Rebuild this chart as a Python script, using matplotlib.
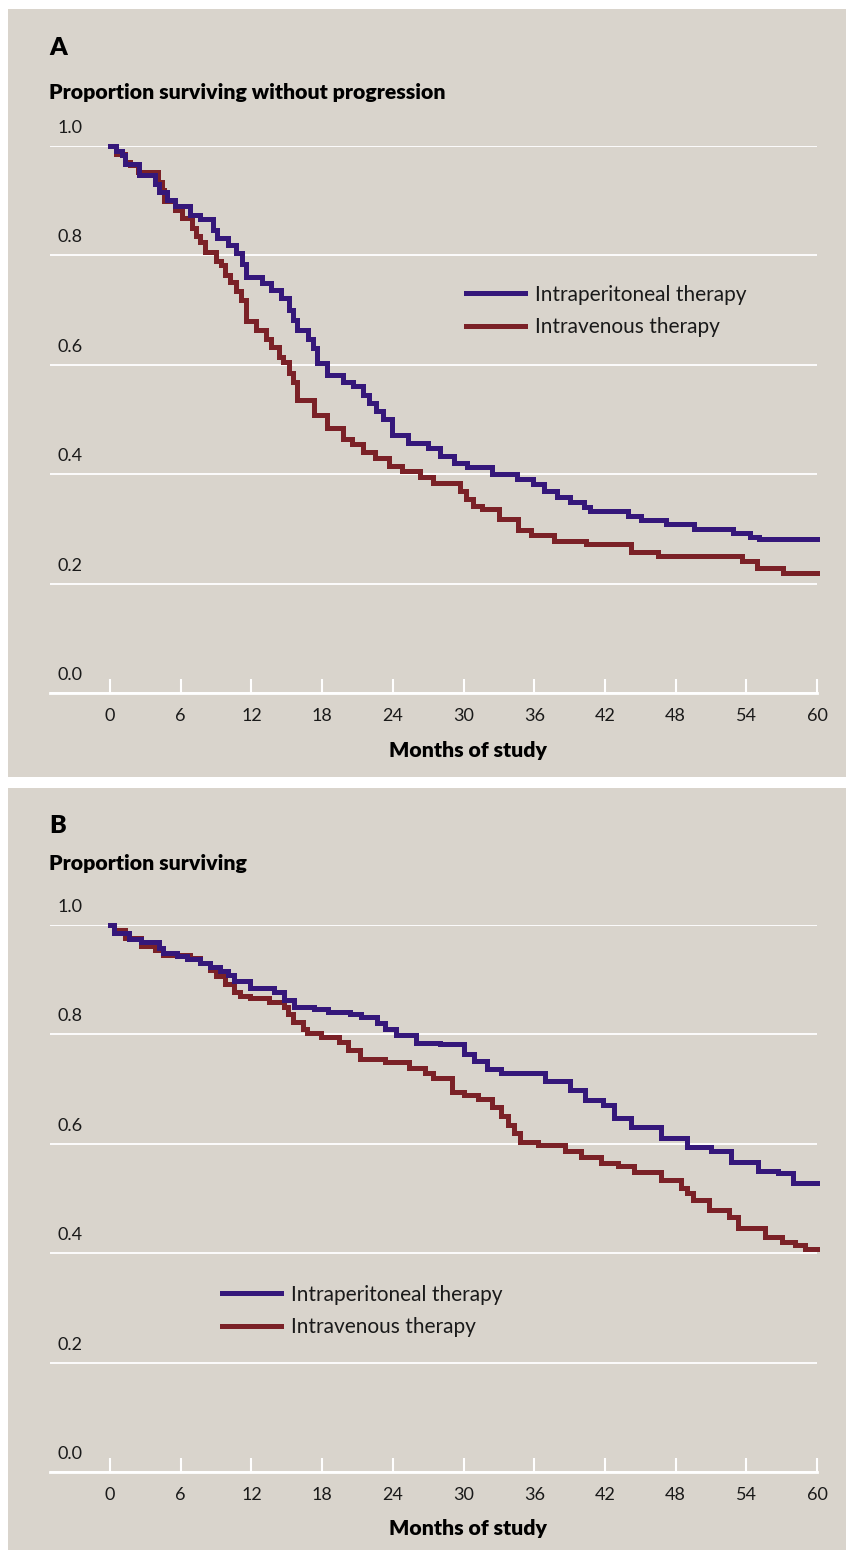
import matplotlib
matplotlib.use("Agg")
import matplotlib.pyplot as plt
from matplotlib.patches import Rectangle
from matplotlib.transforms import offset_copy, blended_transform_factory

# ---------------- data ----------------
months_ticks = [0, 6, 12, 18, 24, 30, 36, 42, 48, 54, 60]
y_ticks = [0.0, 0.2, 0.4, 0.6, 0.8, 1.0]
y_tick_labels = ["0.0", "0.2", "0.4", "0.6", "0.8", "1.0"]
series_names = ["Intraperitoneal therapy", "Intravenous therapy"]

# Panel A: progression-free survival
a_ip_t = [0, 0.5, 1.0, 1.3, 2.5, 3.8, 4.2, 4.8, 5.5, 6.8, 7.6, 8.7, 9.1, 10.0, 10.7, 11.2, 11.5,
          12.9, 13.7, 14.5, 15.2, 15.5, 15.9, 16.8, 17.2, 17.6, 18.4, 19.8, 20.6, 21.5, 22.0,
          22.6, 23.2, 23.9, 25.3, 27.0, 28.0, 29.2, 30.3, 32.4, 34.5, 35.9, 36.8, 37.9, 39.0,
          40.2, 40.7, 44.0, 45.1, 47.2, 49.6, 52.9, 54.3, 55.1, 60]
a_ip_s = [1.0, 0.99, 0.984, 0.968, 0.947, 0.93, 0.916, 0.901, 0.890, 0.874, 0.866, 0.846, 0.832,
          0.819, 0.804, 0.785, 0.761, 0.749, 0.737, 0.722, 0.700, 0.682, 0.664, 0.648, 0.630,
          0.603, 0.581, 0.568, 0.561, 0.545, 0.530, 0.515, 0.500, 0.472, 0.457, 0.447, 0.433,
          0.421, 0.413, 0.400, 0.391, 0.382, 0.370, 0.359, 0.349, 0.340, 0.333, 0.324, 0.316,
          0.309, 0.299, 0.292, 0.286, 0.281, 0.281]
a_iv_t = [0, 0.5, 1.3, 1.7, 2.4, 4.1, 4.4, 4.6, 5.5, 6.1, 7.0, 7.3, 7.6, 8.1, 9.0, 9.4, 9.8, 10.2,
          10.7, 11.1, 11.5, 12.4, 13.2, 13.7, 14.3, 14.7, 15.2, 15.5, 15.9, 17.3, 18.4, 19.8,
          20.5, 21.5, 22.5, 23.7, 24.8, 26.3, 27.4, 29.7, 30.2, 30.8, 31.6, 33.0, 34.6, 35.7,
          37.7, 40.4, 44.2, 46.5, 53.6, 54.9, 57.1, 60]
a_iv_s = [1.0, 0.985, 0.971, 0.965, 0.953, 0.935, 0.92, 0.90, 0.883, 0.868, 0.85, 0.835, 0.825,
          0.807, 0.79, 0.782, 0.765, 0.751, 0.735, 0.718, 0.680, 0.664, 0.648, 0.633, 0.615,
          0.605, 0.585, 0.569, 0.536, 0.508, 0.484, 0.465, 0.455, 0.44, 0.43, 0.415, 0.405,
          0.395, 0.383, 0.37, 0.355, 0.342, 0.336, 0.318, 0.298, 0.288, 0.277, 0.272, 0.258,
          0.250, 0.242, 0.228, 0.220, 0.220]

# Panel B: overall survival
b_ip_t = [0, 0.3, 1.6, 2.6, 4.2, 4.5, 5.7, 6.5, 7.6, 8.5, 9.3, 10.0, 10.5, 11.9, 13.9, 14.8, 15.6,
          17.3, 18.5, 20.4, 21.3, 22.7, 23.3, 24.3, 26.0, 28.0, 30.0, 30.9, 32.0, 33.2, 36.9,
          39.0, 40.3, 41.8, 42.8, 44.2, 46.8, 49.0, 51.0, 52.7, 55.0, 56.7, 58.0, 60]
b_ip_s = [1.0, 0.985, 0.974, 0.969, 0.958, 0.948, 0.944, 0.937, 0.931, 0.923, 0.915, 0.908,
          0.898, 0.885, 0.878, 0.862, 0.851, 0.846, 0.841, 0.837, 0.831, 0.82, 0.809, 0.799,
          0.785, 0.782, 0.765, 0.752, 0.736, 0.729, 0.714, 0.698, 0.680, 0.671, 0.647, 0.631,
          0.611, 0.595, 0.587, 0.566, 0.551, 0.546, 0.528, 0.528]
b_iv_t = [0, 0.3, 1.3, 2.6, 3.8, 4.5, 6.8, 7.6, 8.5, 9.0, 9.8, 10.5, 11.0, 11.9, 13.5, 14.8, 15.1,
          15.5, 16.4, 16.7, 17.9, 19.4, 20.2, 21.2, 23.3, 25.4, 26.7, 27.4, 29.0, 30.0, 31.2,
          32.4, 33.2, 33.8, 34.3, 34.8, 36.3, 38.6, 40.0, 41.7, 43.1, 44.5, 46.8, 48.5, 49.0,
          49.5, 50.8, 52.5, 53.3, 55.6, 57.0, 58.1, 59.0, 60]
b_iv_s = [1.0, 0.99, 0.976, 0.962, 0.955, 0.945, 0.939, 0.930, 0.918, 0.907, 0.893, 0.878,
          0.870, 0.866, 0.860, 0.85, 0.838, 0.823, 0.81, 0.803, 0.796, 0.787, 0.771, 0.755,
          0.750, 0.738, 0.73, 0.720, 0.695, 0.689, 0.681, 0.668, 0.65, 0.635, 0.62, 0.604,
          0.598, 0.586, 0.576, 0.564, 0.559, 0.548, 0.533, 0.52, 0.51, 0.497, 0.479, 0.467,
          0.446, 0.430, 0.421, 0.415, 0.408, 0.408]

# ---------------- style ----------------
W, H = 846, 1550
BG = "#D9D4CC"
BLUE = "#35177A"
RED = "#7B2127"
TXT = "#1a1a1a"
FAM = ["Lato", "DejaVu Sans"]

plt.rcParams["font.family"] = FAM

fig = plt.figure(figsize=(W / 100, H / 100), dpi=100, facecolor="white")


def fx(px):
    return px / W


def fy(py):
    return 1 - py / H


# panel backgrounds (behind the axes)
fig.patches.append(Rectangle((fx(8), fy(777)), fx(846 - 8), (777 - 9) / H,
                             transform=fig.transFigure, facecolor=BG, edgecolor="none", zorder=-5))
fig.patches.append(Rectangle((fx(8), fy(1550)), fx(846 - 8), (1550 - 788) / H,
                             transform=fig.transFigure, facecolor=BG, edgecolor="none", zorder=-5))


def make_panel(top_px, bottom_px, letter, letter_y, title, title_y, xlabel_y,
               ip_t, ip_s, iv_t, iv_s, leg_anchor):
    left_px, right_px = 50, 817
    ax = fig.add_axes([fx(left_px), fy(bottom_px), (right_px - left_px) / W,
                       (bottom_px - top_px) / H])
    ax.set_facecolor("none")
    x0 = -(110 - left_px) / ((817 - 110) / 60.0)
    ax.set_xlim(x0, 60)
    ax.set_ylim(0, 1)
    for s in ["top", "right", "left"]:
        ax.spines[s].set_visible(False)
    ax.spines["bottom"].set_color("white")
    ax.spines["bottom"].set_linewidth(2.0)
    ax.set_xticks(months_ticks)
    ax.set_xticklabels([str(m) for m in months_ticks], fontsize=13, color=TXT)
    ax.tick_params(axis="x", direction="in", length=10, width=1.5, color="white", pad=11)
    ax.set_yticks(y_ticks)
    ax.tick_params(axis="y", length=0, labelleft=False)
    ax.yaxis.grid(True, color="white", linewidth=1.3)
    ax.set_axisbelow(True)

    tr = offset_copy(blended_transform_factory(ax.transAxes, ax.transData), fig=fig,
                     x=0, y=18, units="dots")
    for v, lab in zip(y_ticks, y_tick_labels):
        ax.text((83 - left_px) / (right_px - left_px), v, lab, transform=tr, ha="right",
                va="center", fontsize=13, color=TXT)

    ax.step(ip_t, ip_s, where="post", color=BLUE, lw=3.6, label=series_names[0],
            clip_on=False, zorder=3, solid_joinstyle="miter")
    ax.step(iv_t, iv_s, where="post", color=RED, lw=3.6, label=series_names[1],
            clip_on=False, zorder=2, solid_joinstyle="miter")

    leg = ax.legend(loc="center left", bbox_to_anchor=leg_anchor, frameon=False,
                    prop={"size": 15}, handlelength=2.85,
                    handletextpad=0.45, labelspacing=0.62, borderpad=0, borderaxespad=0)
    for t in leg.get_texts():
        t.set_color(TXT)

    fig.text(fx(49), fy(letter_y), letter, fontsize=18, fontweight="heavy",
             va="center", ha="left", color="black")
    fig.text(fx(49), fy(title_y), title, fontsize=15.3, fontweight="heavy",
             va="center", ha="left", color="black")
    fig.text(fx(468), fy(xlabel_y), "Months of study", fontsize=15.3, fontweight="heavy",
             va="center", ha="center", color="black")
    return ax


make_panel(146, 693, "A", 48, "Proportion surviving without progression", 92, 750,
           a_ip_t, a_ip_s, a_iv_t, a_iv_s, ((466 - 50) / 767, (693 - 311) / 547))
make_panel(925, 1472, "B", 826, "Proportion surviving", 864, 1528,
           b_ip_t, b_ip_s, b_iv_t, b_iv_s, ((222 - 50) / 767, (1472 - 1311) / 547))

fig.savefig("out.png", dpi=100, facecolor="white")
